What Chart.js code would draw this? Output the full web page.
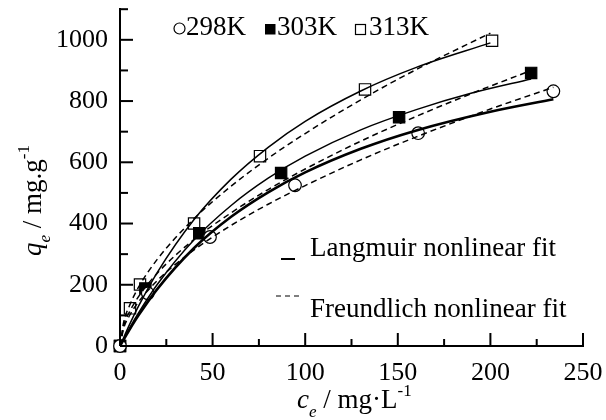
<!DOCTYPE html>
<html>
<head>
<meta charset="utf-8">
<script src="https://cdn.jsdelivr.net/npm/chart.js@4.4.1/dist/chart.umd.min.js"></script>
<style>
  html, body { margin: 0; padding: 0; background: #fff; }
  #wrap { width: 606px; height: 420px; }
</style>
</head>
<body>
<div id="wrap"><canvas id="myChart" width="606" height="420"></canvas></div>
<script>
// measured points (c_e, q_e)
var c298 = [0, 15, 48.6, 94.5, 161, 234];
var q298 = [0, 172, 356, 525, 695, 832];
var c303 = [0, 13.7, 42.8, 87, 150.7, 222];
var q303 = [0, 188, 368, 565, 747, 892];
var c313 = [0, 5.4, 10.8, 40, 75.6, 132.3, 200.9];
var q313 = [0, 123, 201, 400, 620, 838, 997];

// fit curves
var cLang298 = [0, 5, 10, 20, 40, 60, 80, 100, 130, 160, 200, 234];
var qLang298 = [0, 52, 100, 185, 320, 422, 502, 567, 644, 704, 765, 806];
var cFreu298 = [0, 2, 5, 10, 20, 40, 60, 80, 100, 130, 160, 200, 234];
var qFreu298 = [0, 58, 98, 144, 213, 314, 394, 463, 524, 608, 683, 774, 845];
var cLang303 = [0, 5, 10, 20, 40, 60, 80, 100, 130, 160, 190, 222];
var qLang303 = [0, 57, 108, 200, 347, 459, 548, 620, 706, 772, 826, 872];
var cFreu303 = [0, 2, 5, 10, 20, 40, 60, 80, 100, 130, 160, 190, 222];
var qFreu303 = [0, 66, 110, 161, 237, 348, 435, 511, 578, 669, 750, 825, 900];
var cLang313 = [0, 5, 10, 20, 40, 60, 80, 100, 130, 160, 200];
var qLang313 = [0, 68, 130, 239, 413, 545, 649, 734, 833, 910, 990];
var cFreu313 = [0, 2, 5, 10, 20, 40, 60, 80, 100, 130, 160, 200];
var qFreu313 = [0, 78, 130, 192, 282, 416, 522, 613, 694, 804, 903, 1022];

var xTicks = [0, 50, 100, 150, 200, 250];
var xMinor = [25, 75, 125, 175, 225];
var yTicks = [0, 200, 400, 600, 800, 1000];
var yMinor = [100, 300, 500, 700, 900, 1100];

var FONT = '"Liberation Serif", "Times New Roman", serif';

function pts(xs, ys) {
  return xs.map(function (x, i) { return { x: x, y: ys[i] }; });
}

function curve(xs, ys, dashed, width) {
  return {
    data: pts(xs, ys),
    showLine: true,
    borderColor: '#000',
    borderWidth: width || 1.5,
    borderDash: dashed ? [6, 4] : [],
    pointRadius: 0,
    cubicInterpolationMode: 'monotone',
    clip: false
  };
}

function marks(xs, ys, style, fill) {
  return {
    data: pts(xs, ys),
    showLine: false,
    pointStyle: style,
    pointRadius: style === 'rect' ? 8 : 6.3,
    backgroundColor: fill,
    borderColor: '#000',
    borderWidth: 1.2,
    clip: false
  };
}

// inward ticks, legend and axis titles
var decor = {
  id: 'decor',
  afterDraw: function (chart) {
    var c = chart.ctx, xs = chart.scales.x, ys = chart.scales.y;
    var bottom = chart.chartArea.bottom, left = chart.chartArea.left;
    c.save();
    c.fillStyle = '#000';
    c.strokeStyle = '#000';
    xTicks.forEach(function (v) { var p = xs.getPixelForValue(v); c.fillRect(p - 1, bottom - 13, 2, 13); });
    xMinor.forEach(function (v) { var p = xs.getPixelForValue(v); c.fillRect(p - 1, bottom - 7, 2, 7); });
    yTicks.forEach(function (v) { var p = ys.getPixelForValue(v); c.fillRect(left, p - 1, 13, 2); });
    yMinor.forEach(function (v) { var p = ys.getPixelForValue(v); c.fillRect(left, p - 1, 8, 2); });

    c.textBaseline = 'alphabetic';
    c.textAlign = 'left';

    // top legend
    c.lineWidth = 1.2;
    c.beginPath(); c.arc(179.5, 28.5, 5.5, 0, Math.PI * 2); c.stroke();
    c.fillRect(265, 24, 10.5, 10.5);
    c.strokeRect(355.5, 24.5, 10, 10);
    c.font = '27px ' + FONT;
    c.fillText('298K', 186, 34.5);
    c.fillText('303K', 277, 34.5);
    c.fillText('313K', 369, 34.5);

    // fit legend
    c.fillRect(281, 258, 14, 2);
    c.setLineDash([5, 4]);
    c.beginPath(); c.moveTo(276, 296); c.lineTo(302, 296); c.stroke();
    c.setLineDash([]);
    c.fillText('Langmuir nonlinear fit', 310, 256);
    c.fillText('Freundlich nonlinear fit', 310, 317);

    // x title: c_e / mg·L^-1
    var x = 297, by = 408;
    c.font = 'italic 27px ' + FONT; c.fillText('c', x, by); x += c.measureText('c').width;
    c.font = 'italic 17px ' + FONT; c.fillText('e', x, by + 9); x += c.measureText('e').width;
    c.font = '27px ' + FONT; c.fillText(' / mg\u00b7L', x, by); x += c.measureText(' / mg\u00b7L').width;
    c.font = '17px ' + FONT; c.fillText('-1', x, by - 12);

    // y title: q_e / mg.g^-1 (rotated)
    c.translate(41, 256);
    c.rotate(-Math.PI / 2);
    x = 0; by = 0;
    c.font = 'italic 27px ' + FONT; c.fillText('q', x, by); x += c.measureText('q').width;
    c.font = 'italic 17px ' + FONT; c.fillText('e', x, by + 9); x += c.measureText('e').width;
    c.font = '27px ' + FONT; c.fillText(' / mg.g', x, by); x += c.measureText(' / mg.g').width;
    c.font = '17px ' + FONT; c.fillText('-1', x, by - 12);
    c.restore();
  }
};

var ctx = document.getElementById('myChart').getContext('2d');
var myChart = new Chart(ctx, {
  type: 'scatter',
  data: {
    datasets: [
      curve(cFreu298, qFreu298, true),
      curve(cFreu303, qFreu303, true),
      curve(cFreu313, qFreu313, true),
      curve(cLang298, qLang298, false, 2.6),
      curve(cLang303, qLang303, false),
      curve(cLang313, qLang313, false),
      marks(c298, q298, 'circle', '#fff'),
      marks(c303, q303, 'rect', '#000'),
      marks(c313, q313, 'rect', '#fff')
    ]
  },
  options: {
    responsive: false,
    animation: false,
    layout: { padding: { top: 9, right: 23, left: 0, bottom: 0 } },
    plugins: { legend: { display: false }, tooltip: { enabled: false } },
    scales: {
      x: {
        type: 'linear', min: 0, max: 250,
        afterBuildTicks: function (s) { s.ticks = xTicks.map(function (v) { return { value: v }; }); },
        afterFit: function (s) { s.height = 74; s.paddingLeft = 0; s.paddingRight = 0; },
        grid: { display: false },
        border: { display: true, color: '#000', width: 2 },
        ticks: { color: '#000', padding: 4, maxRotation: 0, font: { family: FONT, size: 26 },
          callback: function (v) { return String(v); } }
      },
      y: {
        type: 'linear', min: 0, max: 1100,
        afterBuildTicks: function (s) { s.ticks = yTicks.map(function (v) { return { value: v }; }); },
        afterFit: function (s) { s.width = 120; s.paddingTop = 0; s.paddingBottom = 0; },
        grid: { display: false },
        border: { display: true, color: '#000', width: 2 },
        ticks: { color: '#000', padding: 4, font: { family: FONT, size: 26 },
          callback: function (v) { return String(v); } }
      }
    }
  },
  plugins: [decor]
});
</script>
</body>
</html>
